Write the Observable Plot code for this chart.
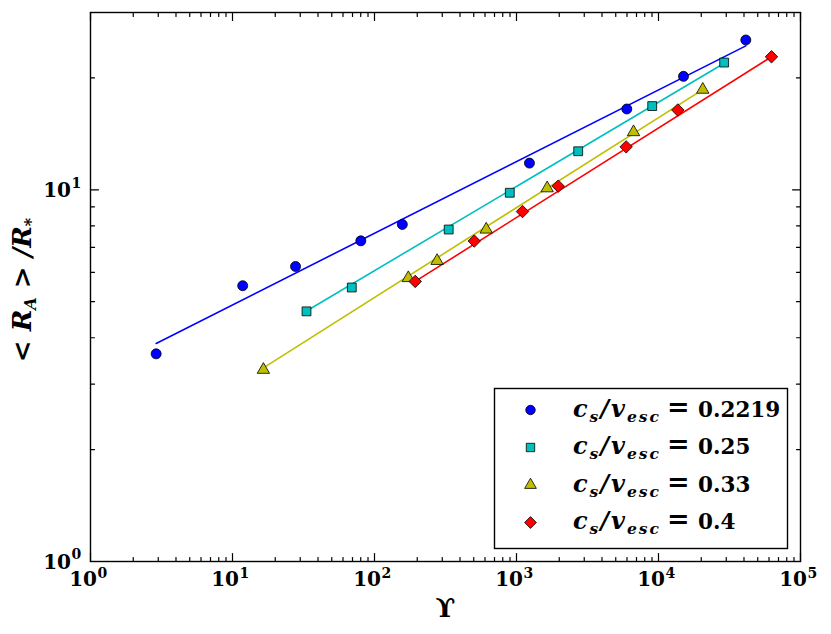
<!DOCTYPE html>
<html><head><meta charset="utf-8">
<script src="https://cdn.jsdelivr.net/npm/d3@7"></script>
<script src="https://cdn.jsdelivr.net/npm/@observablehq/plot@0.6"></script>
<style>body{margin:0;background:#fff}</style>
</head><body><div id="chart"></div>
<script>
// ---- data ----
const seriesValues = ["0.2219", "0.25", "0.33", "0.4"];
const seriesColors = ["#0000ff", "#00bfbf", "#bfbf00", "#ff0000"];
const seriesSymbols = ["circle", "square", "triangle", "diamond2"];

const upsilon1 = [2.9, 11.8, 27.8, 80.1, 157, 1234, 5980, 15000, 41200];
const radius1  = [3.62, 5.52, 6.22, 7.29, 8.07, 11.8, 16.5, 20.2, 25.3];
const upsilon2 = [33.2, 69.2, 333, 897, 2720, 9030, 29000];
const radius2  = [4.71, 5.46, 7.82, 9.82, 12.7, 16.8, 22.0];
const upsilon3 = [16.5, 173, 276, 612, 1644, 6670, 20500];
const radius3  = [3.28, 5.79, 6.44, 7.82, 10.1, 14.3, 18.6];
const upsilon4 = [193.5, 504, 1102, 1967, 5920, 13680, 62500];
const radius4  = [5.67, 7.28, 8.74, 10.23, 13.05, 16.4, 22.8];

const fitX1 = [2.9, 41200],  fitY1 = [3.86, 24.4];
const fitX2 = [33.2, 29000], fitY2 = [4.72, 21.9];
const fitX3 = [16.5, 20500], fitY3 = [3.32, 18.6];
const fitX4 = [193.5, 62500], fitY4 = [5.67, 22.8];

const xMajor = [1, 10, 100, 1000, 10000, 100000];
const xMajorExp = ["0", "1", "2", "3", "4", "5"];
const xMinor = [2,3,4,5,6,7,8,9, 20,30,40,50,60,70,80,90, 200,300,400,500,600,700,800,900,
  2000,3000,4000,5000,6000,7000,8000,9000, 20000,30000,40000,50000,60000,70000,80000,90000];
const yMajor = [1, 10];
const yMajorExp = ["0", "1"];
const yMinor = [2,3,4,5,6,7,8,9,20,30];

// ---- build ----
const pts = (xs, ys) => xs.map((x, i) => ({x, y: ys[i]}));
const dataSets = [pts(upsilon1, radius1), pts(upsilon2, radius2), pts(upsilon3, radius3), pts(upsilon4, radius4)];
const fitSets = [pts(fitX1, fitY1), pts(fitX2, fitY2), pts(fitX3, fitY3), pts(fitX4, fitY4)];
const dotR = [5, 5, 4.6, 5.6];

const FONT = "DejaVu Serif";
const tickShape = {draw(ctx, l) { ctx.moveTo(0, 0); ctx.lineTo(0, -l); }};
const tickMarks = (vals, len) => [
  Plot.vector(vals, {x: d => d, frameAnchor: "bottom", anchor: "start", length: len, rotate: 0, shape: tickShape, stroke: "black", strokeWidth: 1.2}),
  Plot.vector(vals, {x: d => d, frameAnchor: "top", anchor: "start", length: len, rotate: 180, shape: tickShape, stroke: "black", strokeWidth: 1.2})
];
const yTickMarks = (vals, len) => [
  Plot.vector(vals, {y: d => d, frameAnchor: "left", anchor: "start", length: len, rotate: 90, shape: tickShape, stroke: "black", strokeWidth: 1.2}),
  Plot.vector(vals, {y: d => d, frameAnchor: "right", anchor: "start", length: len, rotate: -90, shape: tickShape, stroke: "black", strokeWidth: 1.2})
];

const plot = Plot.plot({
  width: 831, height: 634,
  marginLeft: 90, marginRight: 31, marginTop: 12, marginBottom: 73,
  style: {background: "white"},
  x: {type: "log", domain: [1, 1e5], axis: null},
  y: {type: "log", domain: [1, 30], axis: null},
  marks: [
    ...fitSets.map((d, i) => Plot.line(d, {x: "x", y: "y", stroke: seriesColors[i], strokeWidth: 1.6})),
    ...dataSets.map((d, i) => Plot.dot(d, {x: "x", y: "y", symbol: seriesSymbols[i], r: dotR[i], fill: seriesColors[i], stroke: "black", strokeWidth: 0.8})),
    Plot.frame({stroke: "black", strokeWidth: 1.4}),
    ...tickMarks(xMajor, 8), ...tickMarks(xMinor, 4),
    ...yTickMarks(yMajor, 8), ...yTickMarks(yMinor, 4),
    Plot.text(xMajor, {x: d => d, text: () => "10", frameAnchor: "bottom", textAnchor: "end", lineAnchor: "bottom", dx: 6.5, dy: 24.5, fontSize: 20, fontWeight: "bold", fontFamily: FONT, fill: "black"}),
    Plot.text(xMajor, {x: d => d, text: (d, i) => xMajorExp[i], frameAnchor: "bottom", textAnchor: "start", lineAnchor: "bottom", dx: 7, dy: 16, fontSize: 14, fontWeight: "bold", fontFamily: FONT, fill: "black"}),
    Plot.text(yMajor, {y: d => d, text: () => "10", frameAnchor: "left", textAnchor: "end", lineAnchor: "bottom", dx: -19.5, dy: 7, fontSize: 20, fontWeight: "bold", fontFamily: FONT, fill: "black"}),
    Plot.text(yMajor, {y: d => d, text: (d, i) => yMajorExp[i], frameAnchor: "left", textAnchor: "start", lineAnchor: "bottom", dx: -19, dy: -2.3, fontSize: 14, fontWeight: "bold", fontFamily: FONT, fill: "black"}),
    Plot.text(["ϒ"], {text: d => d, frameAnchor: "bottom", lineAnchor: "bottom", dy: 55, fontSize: 26, fontWeight: "bold", fontFamily: FONT, fill: "black"})
  ]
});
document.getElementById("chart").appendChild(plot);

// ---- y label with subscripts ----
const svg = d3.select(plot);
const yl = svg.append("text")
  .attr("transform", "translate(31,290) rotate(-90)")
  .attr("text-anchor", "middle")
  .attr("font-family", FONT).attr("font-weight", "bold").attr("font-style", "italic")
  .attr("font-size", 26).attr("fill", "black");
yl.append("tspan").text("< R");
yl.append("tspan").attr("dy", 5).attr("font-size", 16).text("A");
yl.append("tspan").attr("dy", -5).text(" > /R");
yl.append("tspan").attr("dy", 5).attr("font-size", 16).text("*");

// ---- legend ----
const lg = svg.append("g").attr("text-anchor", "start");
lg.append("rect").attr("x", 494.5).attr("y", 388.5).attr("width", 293).attr("height", 160)
  .attr("fill", "white").attr("stroke", "black").attr("stroke-width", 1.4);
const symMap = {circle: d3.symbolCircle, square: d3.symbolSquare, triangle: d3.symbolTriangle, diamond2: d3.symbolDiamond2};
seriesValues.forEach((v, i) => {
  const yb = 416.5 + i * 37.5;
  lg.append("path")
    .attr("d", d3.symbol(symMap[seriesSymbols[i]], Math.PI * dotR[i] * dotR[i] * 0.9)())
    .attr("transform", `translate(530.5,${yb - 6.5})`)
    .attr("fill", seriesColors[i]).attr("stroke", "black").attr("stroke-width", 0.8);
  const t = lg.append("text").attr("x", 573).attr("y", yb).attr("text-anchor", "start")
    .attr("font-family", FONT).attr("font-weight", "bold").attr("font-style", "italic")
    .attr("font-size", 24).attr("fill", "black")
    .attr("textLength", 86).attr("lengthAdjust", "spacing");
  t.append("tspan").text("c");
  t.append("tspan").attr("dy", 5).attr("font-size", 15.5).text("s");
  t.append("tspan").attr("dy", -5).text("/v");
  t.append("tspan").attr("dy", 5).attr("font-size", 15.5).text("esc");
  lg.append("text").attr("x", 667).attr("y", yb - 1).attr("text-anchor", "start")
    .attr("font-family", FONT).attr("font-weight", "bold").attr("font-size", 27).attr("fill", "black")
    .text("=");
  lg.append("text").attr("x", 698).attr("y", yb).attr("text-anchor", "start")
    .attr("font-family", FONT).attr("font-weight", "bold").attr("font-size", 21.5).attr("fill", "black")
    .text(v);
});
</script>
</body></html>
